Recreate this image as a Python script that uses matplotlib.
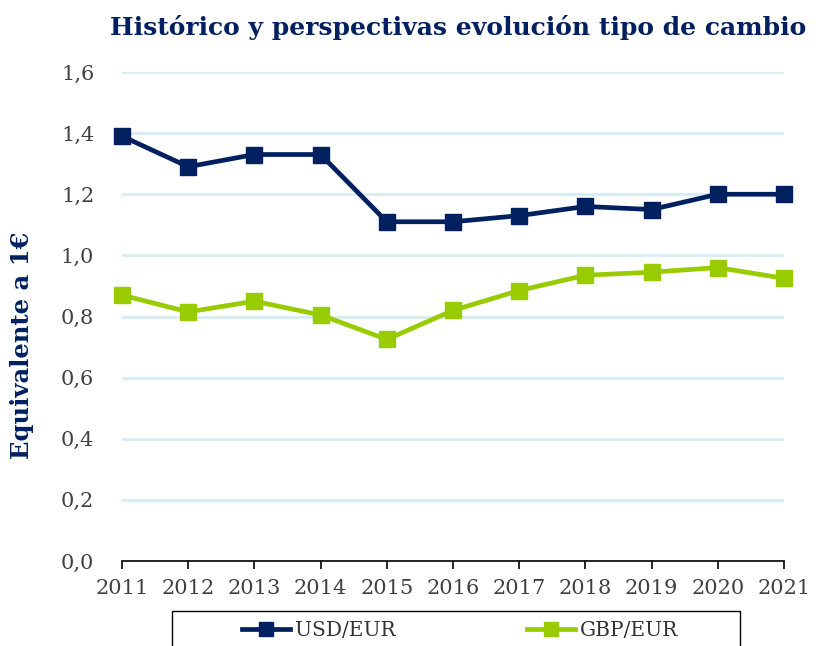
import matplotlib
matplotlib.use("Agg")
import matplotlib.pyplot as plt
from matplotlib.patches import Rectangle

years = ["2011", "2012", "2013", "2014", "2015", "2016", "2017", "2018", "2019", "2020", "2021"]
usd_eur = [1.39, 1.29, 1.33, 1.33, 1.11, 1.11, 1.13, 1.16, 1.15, 1.20, 1.20]
gbp_eur = [0.87, 0.815, 0.85, 0.805, 0.725, 0.82, 0.885, 0.935, 0.945, 0.96, 0.925]
y_ticks = [0.0, 0.2, 0.4, 0.6, 0.8, 1.0, 1.2, 1.4, 1.6]

NAVY = "#002060"
GREEN = "#99CC00"
GRID = "#D6ECF5"
TXT = "#404040"

plt.rcParams["font.family"] = ["DejaVu Serif"]

fig = plt.figure(figsize=(8.23, 6.46), dpi=100)
ax = fig.add_axes([122/823, 1 - 561/646, (784 - 122)/823, (561 - 72)/646])

x = list(range(len(years)))
ax.plot(x, usd_eur, color=NAVY, lw=3.4, marker="s", ms=12, label="USD/EUR", clip_on=False, zorder=3)
ax.plot(x, gbp_eur, color=GREEN, lw=3.4, marker="s", ms=12, label="GBP/EUR", clip_on=False, zorder=3)

ax.set_xlim(0, len(years) - 1)
ax.set_ylim(0, 1.6)
ax.set_yticks(y_ticks)
ax.set_yticklabels([f"{v:.1f}".replace(".", ",") for v in y_ticks], color=TXT, fontsize=15)
ax.set_xticks(x)
ax.set_xticklabels(years, color=TXT, fontsize=15)
ax.tick_params(axis="y", length=0, pad=20)
ax.tick_params(axis="x", length=6, width=1.2, direction="out", pad=7)
ax.yaxis.grid(True, color=GRID, lw=2)
ax.set_axisbelow(True)
for s in ["left", "right", "top"]:
    ax.spines[s].set_visible(False)
ax.spines["bottom"].set_color("black")
ax.spines["bottom"].set_linewidth(1.2)
ax.spines["bottom"].set_zorder(2)

fig.text(458/823, 1 - 27/646, "Histórico y perspectivas evolución tipo de cambio",
         ha="center", va="center", fontsize=18, fontweight="bold", color=NAVY)
fig.text(22/823, 1 - 345/646, "Equivalente a 1€", rotation=90,
         ha="center", va="center", fontsize=17.5, fontweight="bold", color=NAVY)

# legend box runs off the bottom edge
top = 1 - 611/646
fig.patches.append(Rectangle((172/823, -0.1), (740 - 172)/823, top + 0.1,
                             transform=fig.transFigure, fill=False, edgecolor="black", lw=1))
leg = fig.legend(loc="center", bbox_to_anchor=(460/823, 1 - 631/646), ncol=2, frameon=False,
                 fontsize=14.5, handlelength=2.4, columnspacing=6.5, handletextpad=0.25, markerscale=0.8)
for t in leg.get_texts():
    t.set_color("#333333")

fig.savefig("out.png", dpi=100)
